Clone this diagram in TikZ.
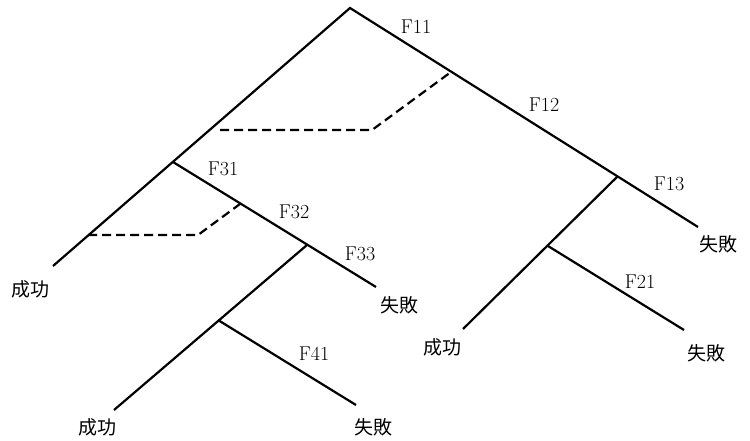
\documentclass[tikz,border=0pt]{standalone}
\usepackage{fontspec}
\newfontfamily\cjk{Noto Sans CJK SC}
\begin{document}
\begin{tikzpicture}[x=1pt,y=-1pt,
  branch/.style={line width=2.2pt, line cap=butt},
  dashline/.style={line width=2.2pt, dash pattern=on 9pt off 5pt},
  flabel/.style={font=\fontsize{20}{20}\selectfont, inner sep=0pt},
  outlabel/.style={font=\cjk\fontsize{19}{19}\selectfont, inner sep=0pt}]
\useasboundingbox (0,0) rectangle (750,441);
% junctions and ends
\coordinate (root) at (350,8);
\coordinate (n11) at (451,72);
\coordinate (j13) at (618,176);
\coordinate (e13) at (698,227);
\coordinate (j31) at (173,162);
\coordinate (eL) at (53,266);
\coordinate (n32) at (240,204);
\coordinate (j33) at (307,245);
\coordinate (e33) at (376,287);
\coordinate (j41) at (218,320);
\coordinate (e41s) at (114,410);
\coordinate (e41f) at (356,405);
\coordinate (j21) at (548,246);
\coordinate (e21s) at (463,329);
\coordinate (e21f) at (684,330);
\coordinate (d1a) at (220,130);
\coordinate (d1b) at (372,130);
\coordinate (d2a) at (88,235);
\coordinate (d2b) at (198,235);
% solid branches
\draw[branch] (eL) -- (root) -- (e13);
\draw[branch] (j31) -- (e33);
\draw[branch] (j33) -- (e41s);
\draw[branch] (j41) -- (e41f);
\draw[branch] (j13) -- (e21s);
\draw[branch] (j21) -- (e21f);
% dashed
\draw[dashline] (d1a) -- (d1b) -- (n11);
\draw[dashline] (d2a) -- (d2b) -- (n32);
% labels
\node[flabel] (f11) at (416,27) {F11};
\node[flabel] (f12) at (544,105) {F12};
\node[flabel] (f13) at (669,184) {F13};
\node[flabel] (f31) at (223,169) {F31};
\node[flabel] (f32) at (294,212) {F32};
\node[flabel] (f33) at (360,254) {F33};
\node[flabel] (f41) at (314,354) {F41};
\node[flabel] (f21) at (640,282) {F21};
\node[outlabel] (s1) at (31,289) {成功};
\node[outlabel] (s2) at (97,427) {成功};
\node[outlabel] (s3) at (442,347) {成功};
\node[outlabel] (x1) at (373,427) {失敗};
\node[outlabel] (x2) at (399,305) {失敗};
\node[outlabel] (x3) at (706,353) {失敗};
\node[outlabel] (x4) at (718,244) {失敗};
\end{tikzpicture}
\end{document}
